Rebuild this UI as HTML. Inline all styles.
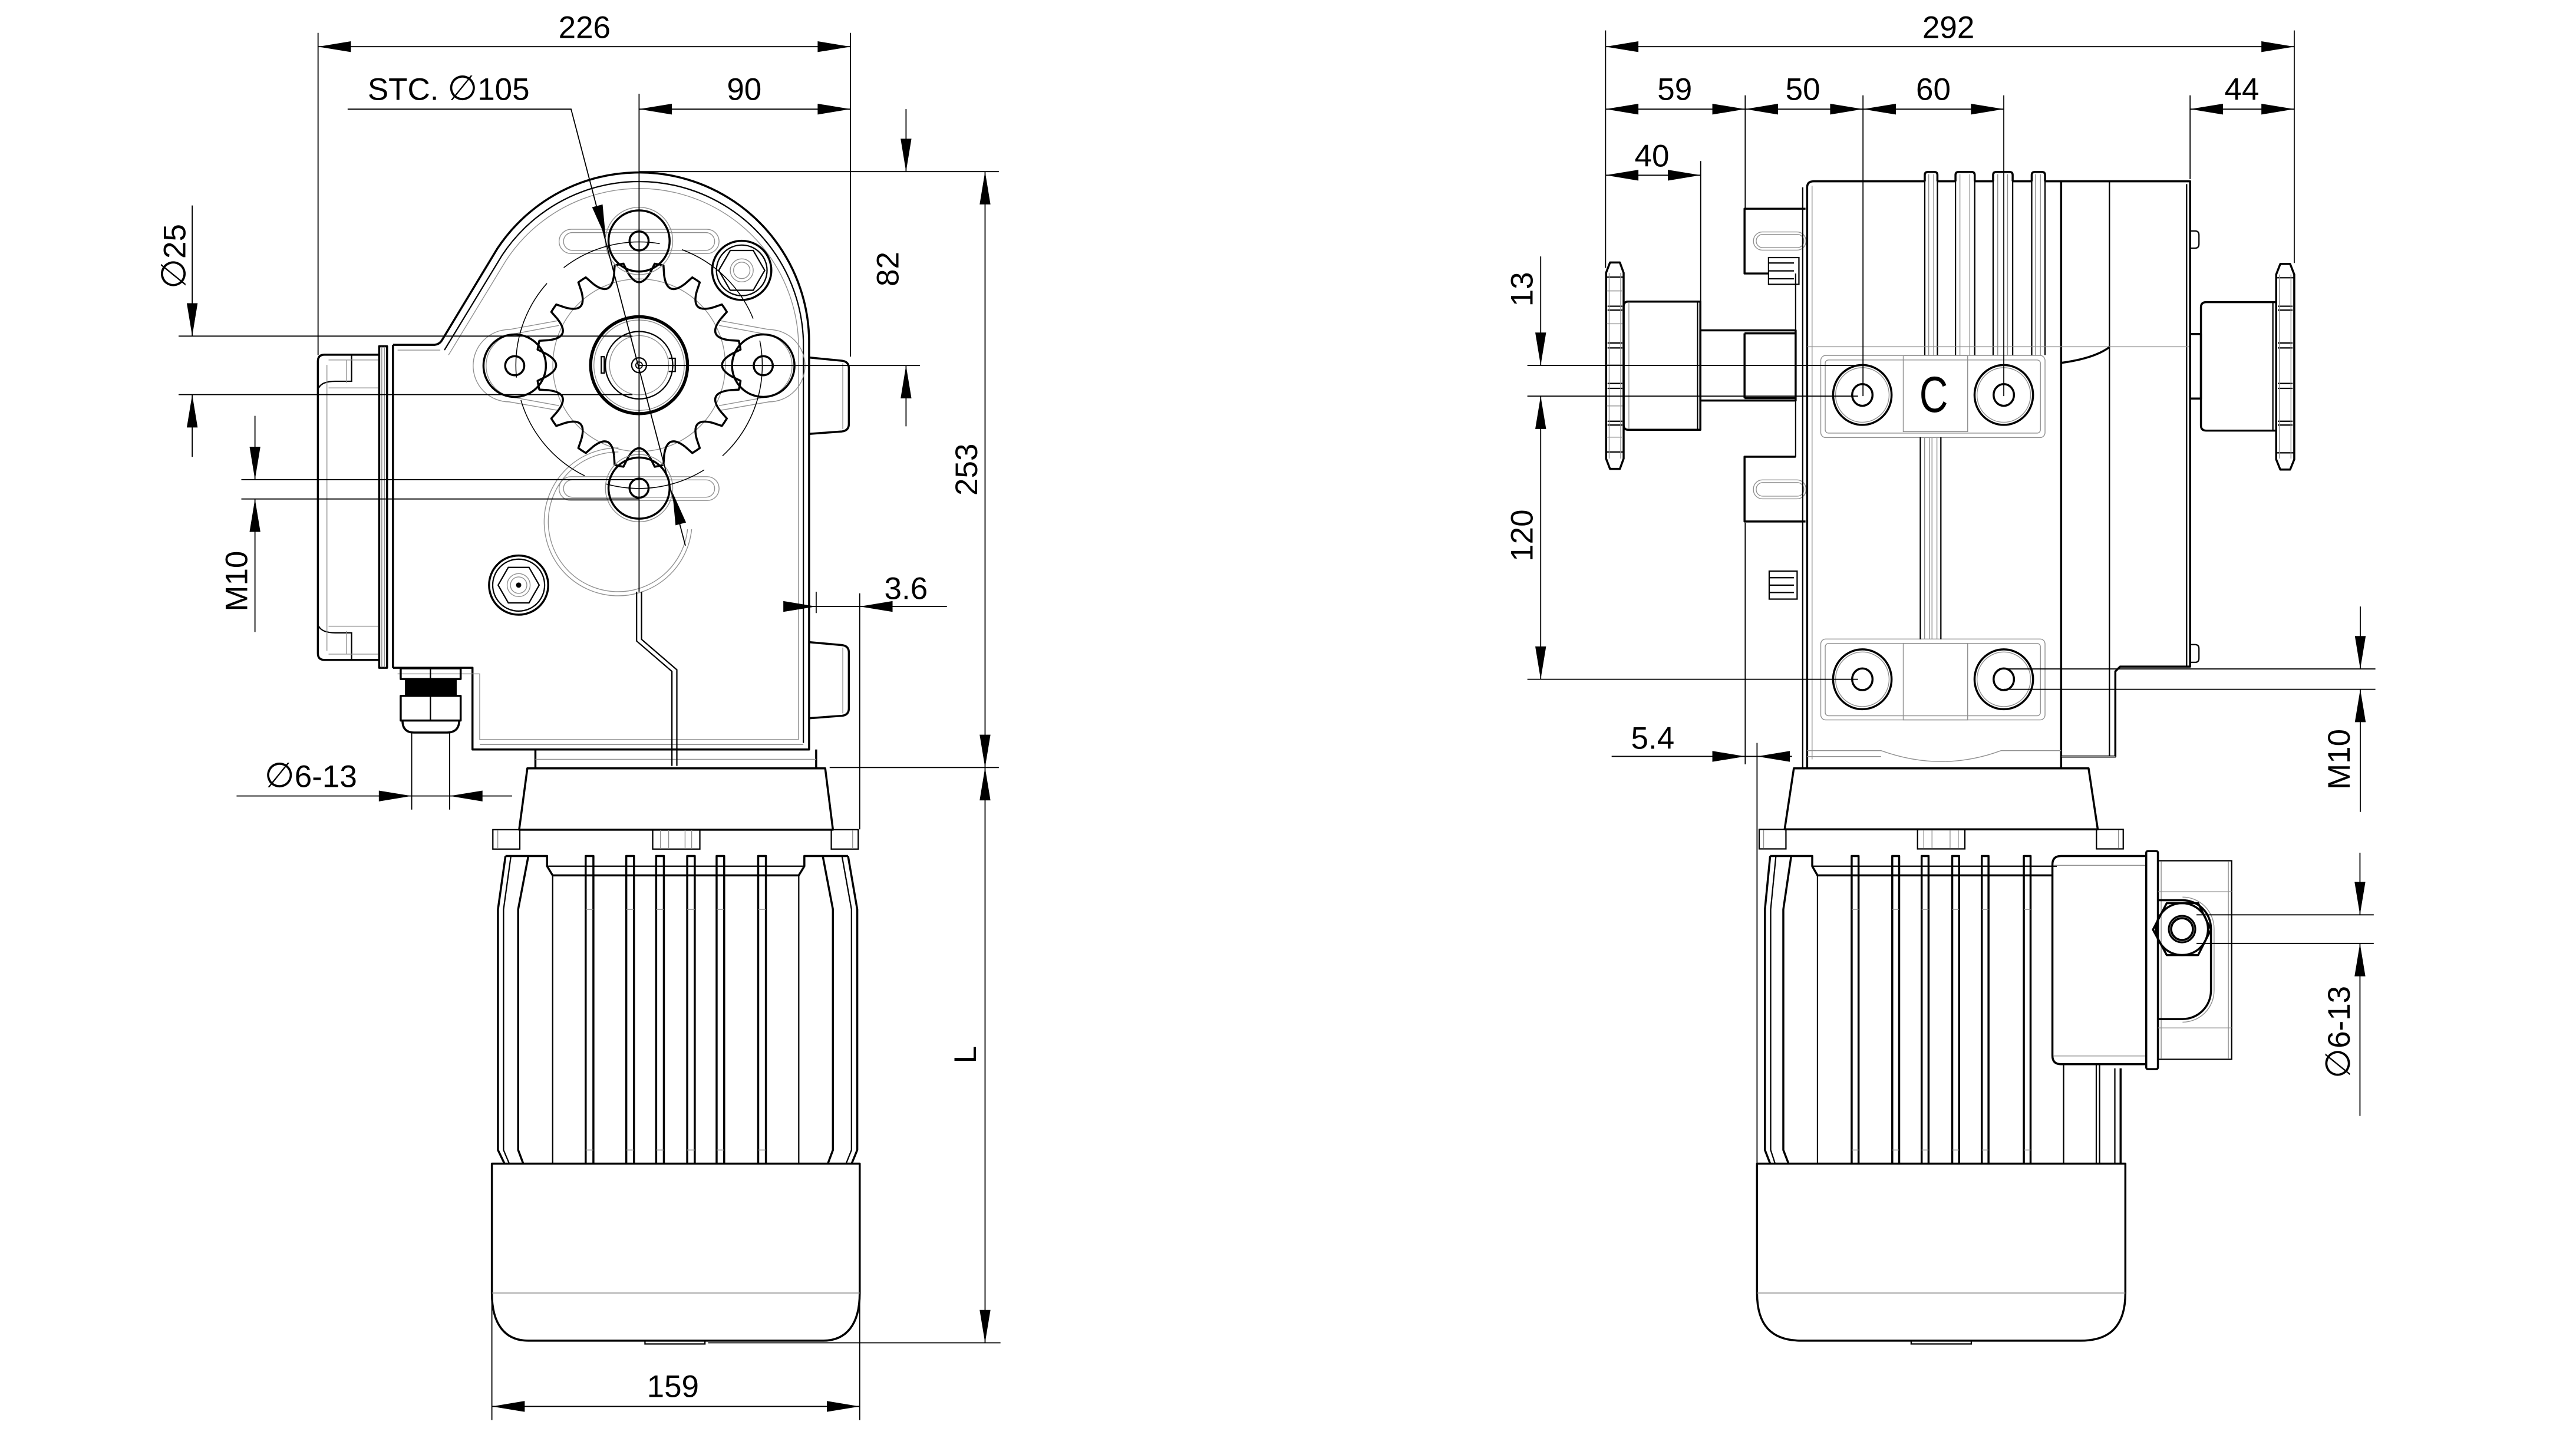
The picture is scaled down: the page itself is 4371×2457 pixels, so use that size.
<!DOCTYPE html>
<html><head><meta charset="utf-8"><style>
html,body{margin:0;padding:0;background:#fff}
svg{display:block}
.k{stroke:#000;stroke-width:1.25;fill:none;stroke-linejoin:round}
.m{stroke:#000;stroke-width:0.8;fill:none}
.t{stroke:#000;stroke-width:0.65;fill:none}
.g{stroke:#909090;stroke-width:0.5;fill:none}
.f{fill:#000;stroke:none}
text{font-family:"Liberation Sans","DejaVu Sans",sans-serif;font-size:19px;fill:#000}
.d{font-family:"DejaVu Sans",sans-serif;font-size:21px}
</style></head><body>
<svg xmlns="http://www.w3.org/2000/svg" width="4371" height="2457" viewBox="0 0 1568 881" preserveAspectRatio="none">
<defs>
<path id="tooth" class="k" d="M56.575,-6.946 Q44.4,0 56.575,6.946 L61.77,9.51 A62.5 62.5 0 0 1 60.71,14.86 L54.93,15.23"/>
</defs>
<rect width="1568" height="881" fill="#fff"/>

<!-- ================= LEFT VIEW ================= -->
<path class="k" d="M231,215.8 L197.5,215.8 Q193.5,215.8 193.5,219.8 L193.5,397.5 Q193.5,401.5 197.5,401.5 L231,401.5"/>
<path class="m" d="M194,236 Q196,232 204,232 L214,232 L214,216.2 M194,381 Q196,385 204,385 L214,385 L214,401.2"/>
<path class="g" d="M199,222 V396 M200,219 H230 M200,236 H230 M200,381 H230 M200,398 H230 M211,219 V233 M211,384 V398"/>
<rect class="k" x="230.8" y="210.7" width="4.8" height="195.6"/>
<path class="g" d="M232.4,211 V406 M234,211 V406"/>
<path class="k" d="M239.2,209.8 V406.3 M239.2,209.8 L264.5,209.8 Q267.5,209.5 269,207 L302.7,151.3 A103.5,103.5 0 0 1 492.5,207 L492.5,456 L287.6,456 L287.6,406.3 L239.2,406.3"/>
<path class="m" d="M270.5,213 L305.5,155.5 A100,100 0 0 1 489,207 L489,452"/>
<path class="g" d="M242,213 H268 M273,216 L308,158.5 A97,97 0 0 1 486,207 L486,450 L292,450 L292,410 L242,410"/>
<path class="k" d="M492.5,217.5 L512.5,219.5 Q516.7,220 516.7,224 L516.7,258 Q516.7,262 512.5,262.5 L492.5,264 M492.5,390.7 L512.5,392.5 Q516.7,393 516.7,397 L516.7,431 Q516.7,435 512.5,435.5 L492.5,437"/>
<path class="g" d="M513,221 V261 M513,394 V434"/>
<rect class="k" x="243.9" y="406.6" width="36.5" height="6.5"/>
<path class="m" d="M262,406.6 V413.1 M262,423.4 V438.4"/>
<rect class="f" x="246.5" y="413.1" width="31.5" height="10.3"/>
<rect class="k" x="243.9" y="423.4" width="36.5" height="15"/>
<path class="k" d="M245,438.4 Q245,445.7 252,445.7 H272 Q279.5,445.7 279.5,438.4"/>
<path class="k" d="M325.9,456 V467.5 M496.8,456 V467.5"/>
<path class="g" d="M325.9,462 H496.8 M292,453 H489"/>

<path class="g" d="M376.4,272.5 A45,45 0 1 0 421,322 M376.4,275 A42.5,42.5 0 1 0 418.5,322"/>
<rect class="g" x="340.3" y="139.5" width="97.4" height="14.8" rx="7.4"/>
<rect class="g" x="343" y="141.5" width="92" height="10.8" rx="5.4"/>
<rect class="g" x="340.3" y="290" width="97.4" height="14.5" rx="7.2"/>
<rect class="g" x="343" y="292" width="92" height="10.5" rx="5.2"/>
<path class="g" d="M340.3,195 L310,200.5 A22,22 0 0 0 310,244.5 L340.3,249.8 M340.3,198 L311,203.5 A19.5,19.5 0 0 0 311,241.5 L340.3,246.8"/>
<path class="g" d="M437.7,195 L468,200.5 A22,22 0 0 1 468,244.5 L437.7,249.8 M437.7,198 L467,203.5 A19.5,19.5 0 0 1 467,241.5 L437.7,246.8"/>
<circle class="g" cx="389" cy="222.2" r="52.5"/>
<g transform="translate(389,222.2)">
<use href="#tooth"/><use href="#tooth" transform="rotate(22.5)"/><use href="#tooth" transform="rotate(45)"/><use href="#tooth" transform="rotate(67.5)"/>
<use href="#tooth" transform="rotate(90)"/><use href="#tooth" transform="rotate(112.5)"/><use href="#tooth" transform="rotate(135)"/><use href="#tooth" transform="rotate(157.5)"/>
<use href="#tooth" transform="rotate(180)"/><use href="#tooth" transform="rotate(202.5)"/><use href="#tooth" transform="rotate(225)"/><use href="#tooth" transform="rotate(247.5)"/>
<use href="#tooth" transform="rotate(270)"/><use href="#tooth" transform="rotate(292.5)"/><use href="#tooth" transform="rotate(315)"/><use href="#tooth" transform="rotate(337.5)"/>
</g>
<circle class="g" cx="389" cy="146.6" r="20.5"/>
<circle class="k" cx="389" cy="146.6" r="18.6" fill="#fff"/>
<circle class="k" cx="389" cy="146.6" r="5.8"/>
<circle class="g" cx="389" cy="297" r="20.5"/>
<circle class="k" cx="389" cy="297" r="18.6" fill="#fff"/>
<circle class="k" cx="389" cy="297" r="5.8"/>
<circle class="k" cx="313.3" cy="222.5" r="19"/>
<circle class="k" cx="313.3" cy="222.5" r="5.8"/>
<circle class="k" cx="464.6" cy="222.5" r="19"/>
<circle class="k" cx="464.6" cy="222.5" r="5.8"/>
<circle cx="389" cy="222.2" r="75" fill="none" stroke="#000" stroke-width="0.55" stroke-dasharray="62 14"/>
<circle cx="389" cy="222.2" r="29.5" fill="none" stroke="#000" stroke-width="1.9"/>
<circle class="g" cx="389" cy="222.2" r="27.5"/>
<circle class="m" cx="389" cy="222.2" r="20.5"/>
<circle class="g" cx="389" cy="222.2" r="18"/>
<circle class="m" cx="389" cy="222.2" r="4.5"/>
<circle class="t" cx="389" cy="222.2" r="2"/>
<rect class="m" x="366" y="217" width="1.8" height="10"/>
<path class="m" d="M407,218 h4 v8 h-4"/>
<circle class="k" cx="451.5" cy="164.5" r="18"/>
<circle class="m" cx="451.5" cy="164.5" r="15.4"/>
<polygon class="m" points="465.5,164.5 458.5,152.4 444.5,152.4 437.5,164.5 444.5,176.6 458.5,176.6"/>
<circle class="g" cx="451.5" cy="164.5" r="7"/>
<circle class="g" cx="451.5" cy="164.5" r="5"/>
<circle class="k" cx="315.7" cy="356" r="18"/>
<circle class="m" cx="315.7" cy="356" r="15.8"/>
<polygon class="m" points="328.2,356 322,345.2 309.4,345.2 303.2,356 309.4,366.8 322,366.8"/>
<circle class="g" cx="315.7" cy="356" r="7"/>
<circle class="g" cx="315.7" cy="356" r="5"/>
<circle class="f" cx="315.7" cy="356" r="1.6"/>
<path class="m" d="M387.5,360 V390 L409,408.5 V466 M390.5,360 V389 L412,407.5 V466"/>

<path class="k" d="M321,467.5 H502.3 L507,504.8 H316 Z"/>
<rect class="m" x="300" y="504.8" width="16.4" height="11.8"/>
<rect class="m" x="506" y="504.8" width="16.4" height="11.8"/>
<rect class="m" x="397.3" y="504.8" width="28.7" height="11.8"/>
<path class="g" d="M303,505 V516 M519,505 V516 M402,505 V516 M407,505 V516 M417,505 V516 M421,505 V516"/>
<path class="k" d="M307.7,520.8 H333 V527 L336.4,532.6 H486.2 L489.6,527 V520.8 H516.2"/>
<path class="m" d="M333,527 H489.6 M336.4,532.6 V708 M486.2,532.6 V708"/>
<path class="k" d="M307.7,520.8 L303.1,553.3 V699.7 L307.1,708 M321.6,520.8 L315.4,553.3 V699.7 L318.5,708 M516.2,520.8 L521.8,553.3 V699.7 L518.4,708 M500.8,520.8 L507,553.3 V699.7 L503.9,708"/>
<path class="m" d="M311,520.8 L306.5,553.3 V699.7 L310,708 M512.5,520.8 L518.3,553.3 V699.7 L515,708"/>
<path class="k" d="M356.5,708 V520.8 H361.2 V708 M381.2,708 V520.8 H385.9 V708 M399.4,708 V520.8 H404.1 V708 M418.3,708 V520.8 H422.9 V708 M436.2,708 V520.8 H440.8 V708 M461.5,708 V520.8 H466.2 V708"/>
<path class="g" d="M356.5,553.3 H361.2 M381.2,553.3 H385.9 M399.4,553.3 H404.1 M418.3,553.3 H422.9 M436.2,553.3 H440.8 M461.5,553.3 H466.2 M356.5,699.7 H361.2 M381.2,699.7 H385.9 M399.4,699.7 H404.1 M418.3,699.7 H422.9 M436.2,699.7 H440.8 M461.5,699.7 H466.2"/>
<path class="k" d="M299.4,708 H523.3 V786.7 C523.3,806 515,815.7 501,815.7 H321.6 C307.6,815.7 299.4,806 299.4,786.7 Z"/>
<path class="g" d="M299.4,786.7 H523.3"/>
<rect class="m" x="392.6" y="815.7" width="36.5" height="2"/>

<path class="t" d="M193.6,20 V216 M517.7,20 V217 M193.6,28.4 H517.7 M389,57 V360 M389,66.4 H517.7 M211.6,66.4 H347.6 L417.2,332 M389,104.4 H608 M389,222.4 H560 M551.5,66.4 V104.4 M551.5,222.4 V259.4 M599.6,104.4 V817 M505,467 H608 M431,817 H609 M108.7,204.5 H385 M108.7,240.1 H385 M117,125 V204.5 M117,240.1 V278 M146.9,291.8 H389 M146.9,303.6 H389 M155.2,253 V291.8 M155.2,303.6 V384.5 M496.8,360 V373 M523.3,361 V504.6 M480,369 H576.4 M250.6,445.7 V492.6 M273.7,445.7 V492.6 M144,484.3 H311.7 M299.4,790 V864 M523.3,790 V864 M299.4,855.7 H523.3"/>
<g class="f">
<polygon points="193.6,28.4 213.6,25.1 213.6,31.7"/>
<polygon points="517.7,28.4 497.7,25.1 497.7,31.7"/>
<polygon points="389,66.4 409,63.1 409,69.7"/>
<polygon points="517.7,66.4 497.7,63.1 497.7,69.7"/>
<polygon points="551.5,104.4 548.2,84.4 554.8,84.4"/>
<polygon points="551.5,222.4 548.2,242.4 554.8,242.4"/>
<polygon points="599.6,104.4 596.3,124.4 602.9,124.4"/>
<polygon points="599.6,467 596.3,447 602.9,447"/>
<polygon points="599.6,467 596.3,487 602.9,487"/>
<polygon points="599.6,817 596.3,797 602.9,797"/>
<polygon points="117,204.5 113.7,184.5 120.3,184.5"/>
<polygon points="117,240.1 113.7,260.1 120.3,260.1"/>
<polygon points="155.2,291.8 151.9,271.8 158.5,271.8"/>
<polygon points="155.2,303.6 151.9,323.6 158.5,323.6"/>
<polygon points="496.8,369 476.8,365.7 476.8,372.3"/>
<polygon points="523.3,369 543.3,365.7 543.3,372.3"/>
<polygon points="250.6,484.3 230.6,481 230.6,487.6"/>
<polygon points="273.7,484.3 293.7,481 293.7,487.6"/>
<polygon points="299.4,855.7 319.4,852.4 319.4,859"/>
<polygon points="523.3,855.7 503.3,852.4 503.3,859"/>
<polygon points="368.7,144.6 366.8,124.4 360.4,126.1"/>
<polygon points="409.3,299.4 417.6,317.9 411.2,319.6"/>
</g>
<text x="355.8" y="23.2" text-anchor="middle">226</text>
<text x="453" y="60.8" text-anchor="middle">90</text>
<text x="223.8" y="60.8">STC. <tspan class="d">∅</tspan>105</text>
<text x="551.5" y="364.5" text-anchor="middle">3.6</text>
<text x="161" y="478.8"><tspan class="d">∅</tspan>6-13</text>
<text x="409.6" y="850" text-anchor="middle">159</text>
<text transform="translate(106,156) rotate(-90)" y="6.8" text-anchor="middle"><tspan class="d">∅</tspan>25</text>
<text transform="translate(143.6,353.6) rotate(-90)" y="6.8" text-anchor="middle">M10</text>
<text transform="translate(540,163.7) rotate(-90)" y="6.8" text-anchor="middle">82</text>
<text transform="translate(588,285.7) rotate(-90)" y="6.8" text-anchor="middle">253</text>
<text transform="translate(587.2,641.7) rotate(-90)" y="6.8" text-anchor="middle">L</text>

<!-- ================= RIGHT VIEW ================= -->
<path class="k" d="M980,159.7 H986 L988.3,166 V279 L986,285.3 H980 L977.6,279 V166 Z"/>
<path class="m" d="M977.6,168.6 H988.3 M978.5,186.3 H987.5 M978.5,188.7 H987.5 M978.5,208.7 H987.5 M978.5,211.7 H987.5 M978.5,233.3 H987.5 M978.5,236.3 H987.5 M978.5,256.3 H987.5 M978.5,258.6 H987.5 M977.6,275 H988.3"/>
<path class="g" d="M979.5,166 V279 M986.5,166 V279 M978,177 H988 M978,197 H988 M978,222 H988 M978,247 H988 M978,266 H988"/>
<path class="k" d="M1035,183.5 H991 Q988.3,183.5 988.3,186.5 V258.5 Q988.3,261.5 991,261.5 H1035 Z"/>
<path class="g" d="M991.5,184 V261"/>
<path class="m" d="M1033.3,184 V261"/>
<rect class="k" x="1035" y="201" width="58" height="42.7"/>
<path class="k" d="M1061.9,202.8 V242.2 M1061.9,202.8 H1093 M1061.9,242.2 H1093"/>
<path class="k" d="M1099,127 H1061.9 V166.4 H1076.5 M1099,317.3 H1061.9 V277.9 H1093"/>
<path class="m" d="M1093,166.4 V201 M1093,243.7 V277.9"/>
<rect class="m" x="1076.5" y="156.7" width="18.5" height="16.3"/>
<path class="m" d="M1076.5,160 H1092 M1076.5,164.8 H1092 M1076.5,169.6 H1092"/>
<rect class="m" x="1076.9" y="347.5" width="17" height="17"/>
<path class="m" d="M1076.9,351.5 H1092 M1076.9,356 H1092 M1076.9,360.5 H1092"/>
<rect class="g" x="1067.3" y="141.1" width="32" height="11.1" rx="5.5"/>
<rect class="g" x="1069" y="142.6" width="29" height="8.1" rx="4"/>
<rect class="g" x="1067.3" y="292" width="32" height="11.5" rx="5.5"/>
<rect class="g" x="1069" y="293.6" width="29" height="8.3" rx="4"/>
<path class="k" d="M1100,467 V114 Q1100,110.3 1104,110.3 H1171.6 M1179.3,110.3 H1190.3 M1202,110.3 H1213.2 M1225.1,110.3 H1236.7 M1244.8,110.3 H1333.1 V405.6 H1290.5 L1287.6,408.5 V460.3 H1254.6 M1254.6,110.3 V467"/>
<path class="k" d="M1171.6,110.3 V106.5 Q1171.6,104.6 1173.5,104.6 H1177.4 Q1179.3,104.6 1179.3,106.5 V110.3 M1190.3,110.3 V106.5 Q1190.3,104.6 1192.2,104.6 H1200.1 Q1202,104.6 1202,106.5 V110.3 M1213.2,110.3 V106.5 Q1213.2,104.6 1215.1,104.6 H1223.2 Q1225.1,104.6 1225.1,106.5 V110.3 M1236.7,110.3 V106.5 Q1236.7,104.6 1238.6,104.6 H1242.9 Q1244.8,104.6 1244.8,106.5 V110.3"/>
<path class="m" d="M1171.6,110 V216 M1179.3,110 V216 M1190.3,110 V216 M1202,110 V216 M1213.2,110 V216 M1225.1,110 V216 M1236.7,110 V216 M1244.8,110 V216 M1097.3,114 V467 M1284,110.3 V460.3 M1331,112 V405"/>
<path class="g" d="M1174,106 V216 M1177,106 V216 M1193,106 V216 M1199,106 V216 M1216,106 V216 M1222,106 V216 M1239,106 V216 M1242,106 V216 M1100,211 H1333 M1103,113 V462"/>
<path class="k" d="M1254.6,220.8 Q1275,218 1284,211.2"/>
<path class="m" d="M1333.1,140.5 H1336 Q1338.5,140.5 1338.5,143 V148.5 Q1338.5,151 1336,151 H1333.1 M1333.1,392.2 H1336 Q1338.5,392.2 1338.5,394.7 V400.5 Q1338.5,403 1336,403 H1333.1"/>
<rect class="g" x="1108.3" y="216.3" width="136.5" height="49.9" rx="3"/>
<rect class="g" x="1111" y="219" width="131" height="44.5" rx="2"/>
<rect class="g" x="1158.5" y="216.3" width="39.2" height="46.3"/>
<rect class="g" x="1108.3" y="388.8" width="136.5" height="49.2" rx="3"/>
<rect class="g" x="1111" y="391.5" width="131" height="44" rx="2"/>
<rect class="g" x="1158.5" y="391.5" width="39.2" height="46.5"/>
<path class="m" d="M1168.9,266 V389 M1181.4,266 V389"/>
<path class="g" d="M1171.5,266 V389 M1174.5,266 V389 M1176,266 V389 M1179,266 V389"/>
<ellipse class="k" cx="1133.6" cy="240.3" rx="17.8" ry="18.2"/>
<ellipse class="g" cx="1133.6" cy="240.3" rx="16.3" ry="16.6"/>
<ellipse class="k" cx="1133.6" cy="240.3" rx="6.2" ry="6.6"/>
<ellipse class="k" cx="1219.7" cy="240.3" rx="17.8" ry="18.2"/>
<ellipse class="g" cx="1219.7" cy="240.3" rx="16.3" ry="16.6"/>
<ellipse class="k" cx="1219.7" cy="240.3" rx="6.2" ry="6.6"/>
<ellipse class="k" cx="1133.6" cy="413.3" rx="17.8" ry="18.2"/>
<ellipse class="g" cx="1133.6" cy="413.3" rx="16.3" ry="16.6"/>
<ellipse class="k" cx="1133.6" cy="413.3" rx="6.2" ry="6.6"/>
<ellipse class="k" cx="1219.7" cy="413.3" rx="17.8" ry="18.2"/>
<ellipse class="g" cx="1219.7" cy="413.3" rx="16.3" ry="16.6"/>
<ellipse class="k" cx="1219.7" cy="413.3" rx="6.2" ry="6.6"/>
<text transform="translate(1177,250.6) scale(0.78,1)" text-anchor="middle" style="font-size:31px">C</text>
<path class="g" d="M1100,456.7 H1145 Q1182,470 1218,456.7 H1254.6 M1255,460.3 H1287.6 M1100,460.3 H1145"/>
<rect class="k" x="1333.1" y="203.2" width="6.6" height="39.3"/>
<path class="k" d="M1385.5,183.8 H1343 Q1339.7,183.8 1339.7,187 V258.8 Q1339.7,262 1343,262 H1385.5 Z"/>
<path class="m" d="M1383.5,184 V262"/>
<path class="k" d="M1388,160.6 H1394 L1396.5,167 V279.5 L1394,285.7 H1388 L1385.5,279.5 V167 Z"/>
<path class="m" d="M1385.5,169 H1396.5 M1386.5,186.3 H1395.5 M1386.5,188.7 H1395.5 M1386.5,208.7 H1395.5 M1386.5,211.7 H1395.5 M1386.5,233.3 H1395.5 M1386.5,236.3 H1395.5 M1386.5,256.3 H1395.5 M1386.5,258.6 H1395.5 M1385.5,275.5 H1396.5"/>
<path class="g" d="M1387.5,167 V279 M1394.5,167 V279"/>

<path class="k" d="M1091.9,467.5 H1271.3 L1276.9,504.6 H1086.3 Z"/>
<rect class="m" x="1070.8" y="504.6" width="16.3" height="11.9"/>
<rect class="m" x="1276.1" y="504.6" width="16.3" height="11.9"/>
<rect class="m" x="1167.2" y="504.6" width="28.8" height="11.9"/>
<path class="g" d="M1073.5,505 V516 M1289.5,505 V516 M1171,505 V516 M1176,505 V516 M1187,505 V516 M1192,505 V516"/>
<path class="k" d="M1077.5,520.8 H1103.1 V527 L1106.3,532.6 H1249.3"/>
<path class="m" d="M1103.1,527 H1252 M1106.3,532.6 V708"/>
<path class="k" d="M1077.5,520.8 L1074.3,553.3 V699.7 L1077.5,708 M1090.3,520.8 L1085.5,553.3 V699.7 L1088.7,708"/>
<path class="m" d="M1081,520.8 L1077.8,553.3 V699.7 L1080.5,708"/>
<path class="k" d="M1127.1,708 V520.8 H1131.3 V708 M1151.8,708 V520.8 H1156 V708 M1169.7,708 V520.8 H1173.9 V708 M1188.3,708 V520.8 H1192.5 V708 M1206.3,708 V520.8 H1210.4 V708 M1231.9,708 V520.8 H1236 V708"/>
<path class="g" d="M1127.1,553.3 H1131.3 M1151.8,553.3 H1156 M1169.7,553.3 H1173.9 M1188.3,553.3 H1192.5 M1206.3,553.3 H1210.4 M1231.9,553.3 H1236 M1127.1,699.7 H1131.3 M1151.8,699.7 H1156 M1169.7,699.7 H1173.9 M1188.3,699.7 H1192.5 M1206.3,699.7 H1210.4 M1231.9,699.7 H1236"/>
<path class="m" d="M1256.1,647.5 V708 M1276,647.5 V708 M1278,647.5 V708 M1287.3,650 V708"/>
<path class="k" d="M1290.8,650 V708"/>
<path class="k" d="M1306.4,520.8 H1254.5 Q1249.3,520.8 1249.3,526 V642.3 Q1249.3,647.5 1254.5,647.5 H1306.4"/>
<path class="g" d="M1250,526.5 H1306 M1250,642.5 H1306"/>
<rect class="k" x="1306.4" y="517.8" width="7.1" height="132.7" rx="1"/>
<path class="m" d="M1313.5,523.7 H1358.4 V644.5 H1313.5"/>
<path class="g" d="M1313.5,542.6 H1358.4 M1313.5,625.4 H1358.4 M1356.4,524 V644 M1315.5,524 V644"/>
<path class="k" d="M1313.5,547.7 H1328.5 A17.3,17.3 0 0 1 1345.8,565 V602.7 A17.3,17.3 0 0 1 1328.5,620 H1313.5"/>
<path class="g" d="M1328.5,545.8 A19.2,19.2 0 0 1 1347.7,565 V602.7 A19.2,19.2 0 0 1 1328.5,621.9"/>
<polygon class="k" points="1310.5,565.6 1318.9,549.5 1338,549.5 1345.8,565.6 1338,581.1 1318.9,581.1" fill="#fff"/>
<circle class="k" cx="1328.2" cy="565.3" r="15.8"/>
<circle class="k" cx="1328.2" cy="565.3" r="8"/>
<circle class="g" cx="1328.2" cy="565.3" r="7.3"/>
<circle class="k" cx="1328.2" cy="565.3" r="6.6"/>
<path class="k" d="M1069.5,708 H1293.7 V786.7 C1293.7,806 1285,815.7 1266.5,815.7 H1096.7 C1078,815.7 1069.5,806 1069.5,786.7 Z"/>
<path class="g" d="M1069.5,786.7 H1293.7"/>
<rect class="m" x="1163.3" y="815.7" width="36.6" height="2"/>

<path class="t" d="M977.3,18.5 V163 M1396.5,18.5 V160 M977.3,28.4 H1396.5 M977.3,66.4 H1219.7 M1333.1,66.4 H1396.5 M1062.3,58 V127 M1134,58 V241 M1219.7,58 V241 M1333.1,58 V109 M977.3,106.6 H1035.2 M1035.2,98 V183.5 M929.7,222.3 H1131 M929.7,241 H1131 M929.7,413.3 H1131 M937.8,156 V222.3 M937.8,241 V413.3 M1219.7,407 H1445.9 M1219.7,419.4 H1445.9 M1436.7,369 V407 M1436.7,419.4 V494 M1337,556.6 H1444.9 M1337,574 H1444.9 M1436.5,518.8 V556.6 M1436.5,574 V679 M1062.3,318 V465 M1069.5,452 V708 M981,460.2 H1090.8"/>
<g class="f">
<polygon points="977.3,28.4 997.3,25.1 997.3,31.7"/>
<polygon points="1396.5,28.4 1376.5,25.1 1376.5,31.7"/>
<polygon points="977.3,66.4 997.3,63.1 997.3,69.7"/>
<polygon points="1062.3,66.4 1042.3,63.1 1042.3,69.7"/>
<polygon points="1062.3,66.4 1082.3,63.1 1082.3,69.7"/>
<polygon points="1134,66.4 1114,63.1 1114,69.7"/>
<polygon points="1134,66.4 1154,63.1 1154,69.7"/>
<polygon points="1219.7,66.4 1199.7,63.1 1199.7,69.7"/>
<polygon points="1333.1,66.4 1353.1,63.1 1353.1,69.7"/>
<polygon points="1396.5,66.4 1376.5,63.1 1376.5,69.7"/>
<polygon points="977.3,106.6 997.3,103.3 997.3,109.9"/>
<polygon points="1035.2,106.6 1015.2,103.3 1015.2,109.9"/>
<polygon points="937.8,222.3 934.5,202.3 941.1,202.3"/>
<polygon points="937.8,241 934.5,261 941.1,261"/>
<polygon points="937.8,413.3 934.5,393.3 941.1,393.3"/>
<polygon points="1436.7,407 1433.4,387 1440,387"/>
<polygon points="1436.7,419.4 1433.4,439.4 1440,439.4"/>
<polygon points="1436.5,556.6 1433.2,536.6 1439.8,536.6"/>
<polygon points="1436.5,574 1433.2,594 1439.8,594"/>
<polygon points="1062.3,460.2 1042.3,456.9 1042.3,463.5"/>
<polygon points="1069.5,460.2 1089.5,456.9 1089.5,463.5"/>
</g>
<text x="1186" y="23.2" text-anchor="middle">292</text>
<text x="1019.4" y="60.8" text-anchor="middle">59</text>
<text x="1097.4" y="60.8" text-anchor="middle">50</text>
<text x="1176.8" y="60.8" text-anchor="middle">60</text>
<text x="1364.6" y="60.8" text-anchor="middle">44</text>
<text x="1005.5" y="101.3" text-anchor="middle">40</text>
<text x="1006" y="455.6" text-anchor="middle">5.4</text>
<text transform="translate(926,176) rotate(-90)" y="6.8" text-anchor="middle">13</text>
<text transform="translate(926,325.8) rotate(-90)" y="6.8" text-anchor="middle">120</text>
<text transform="translate(1423.4,462) rotate(-90)" y="6.8" text-anchor="middle">M10</text>
<text transform="translate(1423.4,628) rotate(-90)" y="6.8" text-anchor="middle"><tspan class="d">∅</tspan>6-13</text>
</svg>
</body></html>
